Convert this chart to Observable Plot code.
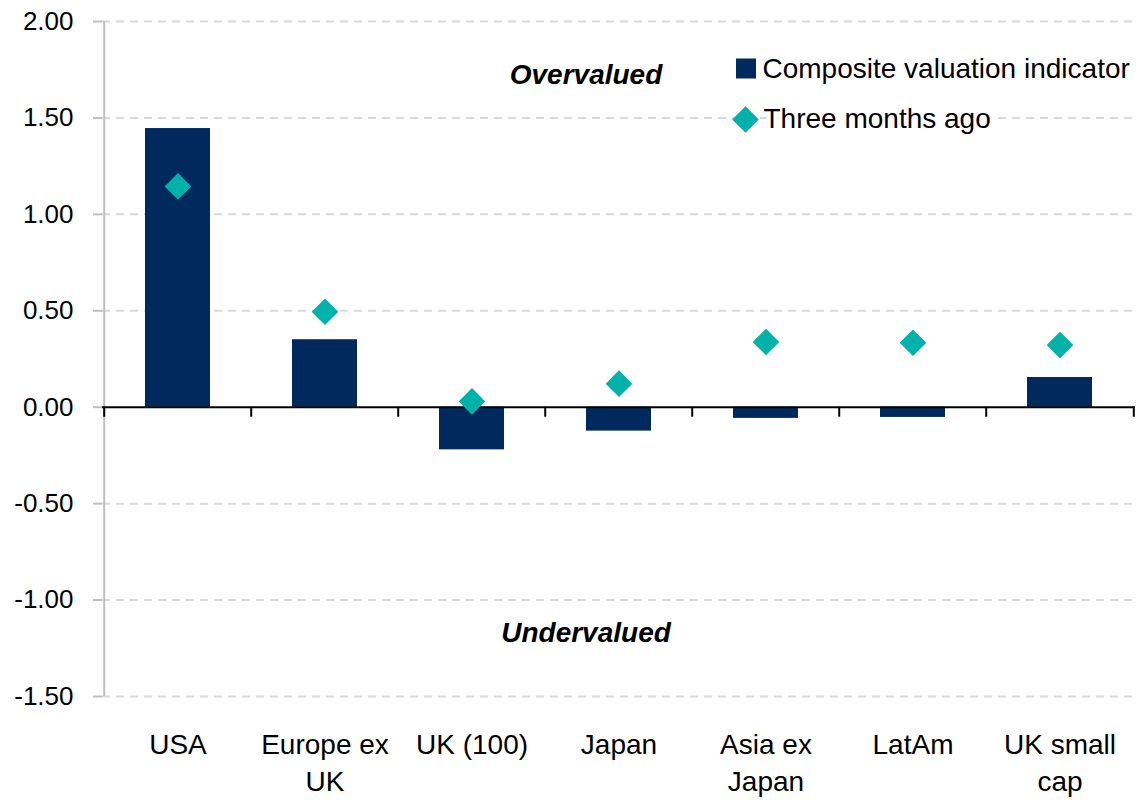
<!DOCTYPE html>
<html>
<head>
<meta charset="utf-8">
<script src="https://cdn.jsdelivr.net/npm/d3@7"></script>
<script src="https://cdn.jsdelivr.net/npm/@observablehq/plot@0.6"></script>
<style>
  html, body { margin: 0; padding: 0; background: #fff; }
  #chart svg { overflow: visible; display: block; }
</style>
</head>
<body>
<div id="chart"></div>
<script>
// ---- data ----
const categories = ["USA", "Europe ex UK", "UK (100)", "Japan", "Asia ex Japan", "LatAm", "UK small cap"];
const categoryLabels = ["USA", "Europe ex\nUK", "UK (100)", "Japan", "Asia ex\nJapan", "LatAm", "UK small\ncap"];
const composite = [1.445, 0.350, -0.221, -0.124, -0.058, -0.053, 0.154];
const threeMonthsAgo = [1.145, 0.495, 0.030, 0.122, 0.338, 0.334, 0.322];
const yTicks = [-1.5, -1.0, -0.5, 0.0, 0.5, 1.0, 1.5, 2.0];
const seriesNames = ["Composite valuation indicator", "Three months ago"];
const zoneLabels = [{text: "Overvalued", v: 1.72}, {text: "Undervalued", v: -1.173}];

const rows = categories.map((c, i) => ({cat: c, current: composite[i], prev: threeMonthsAgo[i]}));
const labelOf = new Map(categories.map((c, i) => [c, categoryLabels[i]]));

// ---- layout ----
const W = 1142, H = 800;
const mL = 102, mR = 7, mT = 21, mB = 104;
const step = (W - mL - mR) / categories.length;

const navy = "#002a5e";
const teal = "#00b2a9";
const font = "'Liberation Sans', Arial, sans-serif";

const chart = Plot.plot({
  width: W, height: H,
  marginLeft: mL, marginRight: mR, marginTop: mT, marginBottom: mB,
  style: {fontFamily: font, fontSize: "27px", color: "#000", background: "#fff"},
  x: {type: "band", domain: categories, paddingInner: 0.56, paddingOuter: 0.28, label: null},
  y: {domain: [-1.5, 2], label: null},
  marks: [
    Plot.gridY(yTicks.filter(t => t !== 0), {stroke: "#d9d9d9", strokeOpacity: 1, strokeWidth: 2, strokeDasharray: "8,6"}),
    // y axis line
    Plot.ruleX([categories[0]], {x: d => d, dx: -step / 2, stroke: "#bfbfbf", strokeWidth: 2}),
    Plot.axisY(yTicks, {tickSize: 9, tickPadding: 20, stroke: "#bfbfbf", fill: "#000", strokeWidth: 2,
      tickFormat: d => d.toFixed(2), fontSize: 26, label: null}),
    Plot.axisX({tickSize: 0, tickPadding: 31, fill: "#000", lineHeight: 1.32, label: null,
      tickFormat: d => labelOf.get(d), fontSize: 28}),
    Plot.barY(rows, {x: "cat", y: "current", fill: navy}),
    Plot.ruleY([0], {stroke: "#000", strokeWidth: 2}),
    // category boundary ticks on the zero line
    Plot.ruleX(categories, {x: d => d, y1: 0, y2: 0, dx: -step / 2, insetBottom: -10, stroke: "#000", strokeWidth: 2}),
    Plot.ruleX([categories[categories.length - 1]], {x: d => d, y1: 0, y2: 0, dx: step / 2, insetBottom: -10, stroke: "#000", strokeWidth: 2}),
    Plot.dot(rows, {x: "cat", y: "prev", symbol: "diamond2", r: 12, fill: teal, stroke: "none"}),
    // zone labels
    Plot.text(zoneLabels, {y: "v", text: "text", frameAnchor: "middle", dx: -33, fontWeight: "bold", fontStyle: "italic", fontSize: 28, fill: "#000"}),
    // legend
    Plot.dot([seriesNames[0]], {frameAnchor: "top-left", dx: 643.5, dy: 47, symbol: "square", r: 11.3, fill: navy}),
    Plot.text([seriesNames[0]], {text: d => d, frameAnchor: "top-left", dx: 660, dy: 48, textAnchor: "start", lineAnchor: "middle", fontSize: 28, fill: "#000"}),
    Plot.text([seriesNames[1]], {text: d => d, frameAnchor: "top-left", dx: 661, dy: 98, textAnchor: "start", lineAnchor: "middle", fontSize: 28, fill: "#000", stroke: "#fff", strokeWidth: 8, paintOrder: "stroke"}),
    Plot.dot([seriesNames[1]], {frameAnchor: "top-left", dx: 643, dy: 98, symbol: "diamond2", r: 12, fill: teal})
  ]
});
document.getElementById("chart").appendChild(chart);
</script>
</body>
</html>
